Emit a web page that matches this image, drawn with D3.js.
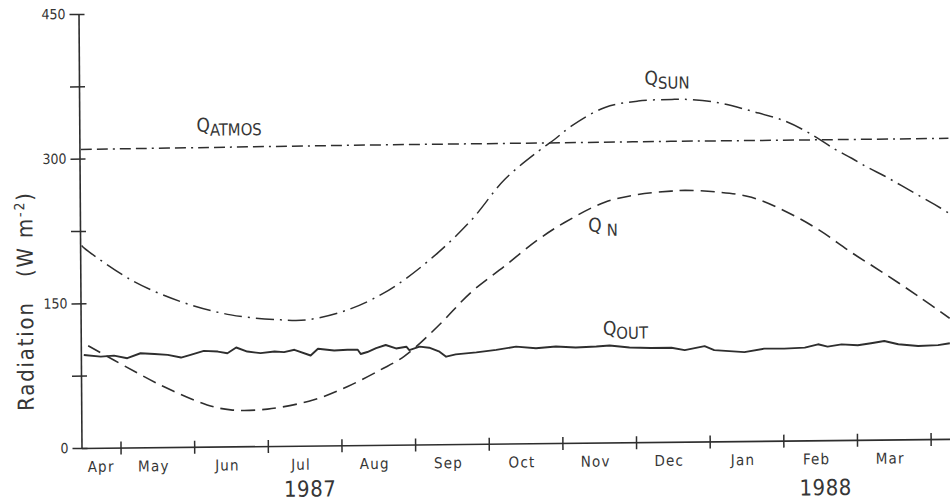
<!DOCTYPE html>
<html><head><meta charset="utf-8">
<script src="https://cdn.jsdelivr.net/npm/d3@7"></script>
<style>
html,body{margin:0;padding:0;background:#fff;}
svg{display:block;}
text{font-family:'DejaVu Sans Condensed','DejaVu Sans',sans-serif;fill:#363636;}
</style>
</head><body>
<svg id="chart" width="950" height="503"></svg>
<script>
// month index: 0 = 1 April 1987, 12 = 1 April 1988
const months = ["Apr","May","Jun","Jul","Aug","Sep","Oct","Nov","Dec","Jan","Feb","Mar"];
const years = ["1987","1988"];
const yearMonthIndex = [3.57, 10.57];
const yTicks = [0,75,150,225,300,375,450];
const yTickLabels = [0,150,300,450];

// [month index, radiation W m-2]
const qAtmos = [[0.49,309.5],[2.5,310.3],[4.5,311],[6.5,311.2],[8.5,311.5],[10.5,311.5],[12.27,311.6]];
const qSun = [[0.49,210],[0.53,207],[1.16,173.7],[1.83,150.7],[2.51,136.4],[3.19,130.7],[3.55,130.5],[4.10,140.4],[4.55,155.7],[4.87,171],[5.33,198.7],[5.79,232.5],[6.24,273.7],[6.70,302.7],[6.92,314.7],[7.15,328.3],[7.61,347.4],[8.06,353.6],[8.52,355],[8.70,354.9],[9.15,351.1],[9.60,342],[10.05,331.4],[10.37,319],[10.72,302],[10.955,292],[11.18,282],[11.405,273],[11.63,263],[11.856,253],[12.08,243],[12.27,234]];
const qN = [[0.57,106],[0.916,90.9],[1.59,62.8],[2.18,43.3],[2.5,37.9],[3.0,38.3],[3.63,47.5],[4.09,60.9],[4.54,77.9],[4.86,91.5],[5.32,122.3],[5.77,156.9],[6.23,183.8],[6.69,211.1],[7.05,228.5],[7.59,248.9],[8.05,256.8],[8.5,259.9],[8.69,260.5],[9.14,258.4],[9.59,252.6],[10.04,238.1],[10.49,218.7],[10.94,194.5],[11.39,172],[11.84,148.6],[12.27,125]];
const qOut = [[0.51,96.4],[0.74,94.5],[0.92,95.4],[1.10,92.6],[1.28,97.6],[1.47,96.7],[1.65,95.6],[1.83,92.7],[1.96,95.4],[2.14,99.4],[2.33,98.5],[2.46,96.7],[2.58,102.5],[2.73,98.2],[2.91,96.4],[3.10,98],[3.23,97.2],[3.37,99.5],[3.59,93.4],[3.69,100.3],[3.91,98.4],[4.09,99],[4.23,98.9],[4.27,94.4],[4.36,96.4],[4.48,100.4],[4.61,103.5],[4.75,99.8],[4.89,101.5],[4.93,98],[5.07,101.4],[5.20,100.2],[5.34,96],[5.43,90.7],[5.56,93],[5.84,94.9],[6.11,97.2],[6.38,100.4],[6.65,98.4],[6.92,100],[7.19,98.8],[7.47,99.6],[7.65,100.5],[7.92,98.2],[8.21,97.5],[8.49,97.5],[8.67,94.9],[8.94,98.8],[9.07,94.6],[9.48,92.2],[9.75,95.6],[10.02,95.4],[10.30,96.2],[10.48,99.5],[10.61,97],[10.80,99.2],[11.02,98.1],[11.20,100],[11.38,102.2],[11.57,98.7],[11.84,96.7],[12.11,97.3],[12.27,99.2]];

// curve labels: main letter, subscript, anchor (month index, value)
const seriesLabels = [
  {main:"Q", sub:"ATMOS", m:2.06, v:326.6, gap:0},
  {main:"Q", sub:"SUN",   m:8.15, v:370.4, gap:0},
  {main:"Q", sub:"N",     m:7.37, v:218.6, gap:5},
  {main:"Q", sub:"OUT",   m:7.56, v:111.5, gap:0}
];

const W = 869, H = 434;
const svg = d3.select("#chart");
// the scanned original is very slightly rotated/sheared
const g = svg.append("g")
  .attr("transform","translate(81.5,448) matrix(1,-0.0105,0.0069,1,0,0) translate(0,-434)");

const x = d3.scaleLinear().domain([0.47, 12.27]).range([0, W]);
const y = d3.scaleLinear().domain([0, 450]).range([H, 0]);

const ink = "#2e2e2e";

// x axis
const xa = g.append("g").attr("transform",`translate(0,${H})`)
  .call(d3.axisBottom(x).tickValues(d3.range(1,13)).tickSize(7).tickSizeOuter(0).tickFormat(""));
xa.select(".domain").attr("stroke",ink).attr("stroke-width",1.6);
xa.selectAll(".tick line").attr("stroke",ink).attr("stroke-width",1.5).attr("y1",-6);

// y axis
const ya = g.append("g")
  .call(d3.axisLeft(y).tickValues(yTicks).tickSize(9).tickSizeOuter(0).tickPadding(4)
    .tickFormat(d => yTickLabels.includes(d) ? d : ""));
ya.select(".domain").attr("stroke",ink).attr("stroke-width",1.6);
ya.selectAll(".tick line").attr("stroke",ink).attr("stroke-width",1.5).attr("x1",6);
ya.selectAll(".tick text").style("font-size","14px").attr("fill","#363636")
  .style("font-family","'DejaVu Sans Condensed','DejaVu Sans',sans-serif");

// month labels
g.append("g").selectAll("text").data(months).join("text")
  .attr("x",(d,i) => x(i === 0 ? (0.47 + 1) / 2 : i + 0.45))
  .attr("y", H + 24)
  .attr("text-anchor","middle")
  .style("font-size","15px").style("letter-spacing","1.2px")
  .text(d => d);

// year labels
g.append("g").selectAll("text").data(years).join("text")
  .attr("x",(d,i) => x(yearMonthIndex[i]))
  .attr("y",(d,i) => H + (i === 0 ? 51 : 55))
  .attr("text-anchor","middle")
  .style("font-size","22px").style("letter-spacing","0.5px")
  .text(d => d);

// y axis title
const yt = g.append("text")
  .attr("transform",`translate(-47.5,${H - 147.5}) rotate(-90)`)
  .attr("text-anchor","middle")
  .style("font-size","22px").style("letter-spacing","1.8px");
yt.append("tspan").text("Radiation\u00a0\u00a0\u00a0(W m");
yt.append("tspan").attr("dy",-8).style("font-size","14px").text("-2");
yt.append("tspan").attr("dy",8).text(")");

// series
const smooth = d3.line().x(d => x(d[0])).y(d => y(d[1])).curve(d3.curveCatmullRom.alpha(0.5));
const rough = d3.line().x(d => x(d[0])).y(d => y(d[1])).curve(d3.curveLinear);

g.append("path").datum(qAtmos).attr("d",smooth).attr("fill","none")
  .attr("stroke",ink).attr("stroke-width",1.5).attr("stroke-dasharray","11,5,11,5,2,5");
g.append("path").datum(qSun).attr("d",smooth).attr("fill","none")
  .attr("stroke",ink).attr("stroke-width",1.5).attr("stroke-dasharray","18,6,2,6");
g.append("path").datum(qN).attr("d",smooth).attr("fill","none")
  .attr("stroke",ink).attr("stroke-width",1.6).attr("stroke-dasharray","14,7");
g.append("path").datum(qOut).attr("d",rough).attr("fill","none")
  .attr("stroke",ink).attr("stroke-width",1.9).attr("stroke-linejoin","round");

// curve labels
const lab = g.append("g").selectAll("text").data(seriesLabels).join("text")
  .attr("x", d => x(d.m)).attr("y", d => y(d.v));
lab.append("tspan").style("font-size","19px").text(d => d.main);
lab.append("tspan").attr("dx", d => d.gap).attr("dy",4).style("font-size","16.5px").text(d => d.sub);
</script>
</body></html>
